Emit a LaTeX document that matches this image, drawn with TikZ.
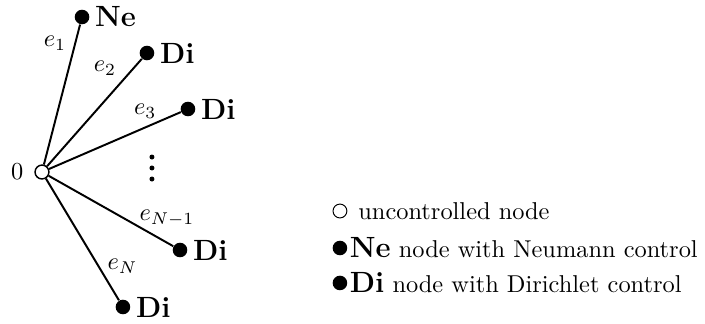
\documentclass[tikz,border=0pt]{standalone}
\usetikzlibrary{positioning}

\begin{document}
\begin{tikzpicture}[
    ctrl/.style={circle, fill=black, inner sep=0pt, minimum size=0.21cm},
    free/.style={circle, draw=black, fill=white, inner sep=0pt, minimum size=0.2cm},
    tag/.style={font=\large\bfseries, label distance=-1.3pt}]
    \useasboundingbox (0,0) rectangle (10.16,4.669);
    % star graph
    \node[free, semithick, label={[label distance=1pt]left:$0$}] (O) at (0.605,2.190) {};
    \node[ctrl, label={[tag]right:Ne}] (Ne) at (1.182,4.424) {};
    \node[ctrl, label={[tag]right:Di}] (Di1) at (2.118,3.905) {};
    \node[ctrl, label={[tag]right:Di}] (Di2) at (2.709,3.098) {};
    \node[ctrl, label={[tag]right:Di}] (Di3) at (2.594,1.066) {};
    \node[ctrl, label={[tag]right:Di}] (Di4) at (1.772,0.245) {};
    \draw[thick] (O) -- node[pos=0.865, left] {$e_1$} (Ne);
    \draw[thick] (O) -- node[inner sep=2pt, pos=0.79, above left] {$e_2$} (Di1);
    \draw[thick] (O) -- node[pos=0.73, above] {$e_3$} (Di2);
    \draw[thick] (O) -- node[pos=0.95, above=3pt] {$e_{N-1}$} (Di3);
    \draw[thick] (O) -- node[pos=0.72, right] {$e_N$} (Di4);
    \foreach \y in {2.406, 2.248, 2.089} {
    \fill (2.190,\y) circle (0.036);
    }
    % legend
    \node[free] (legfree) at (4.899,1.628) {};
    \node[right=1pt of legfree] (txtfree) {uncontrolled node};
    \node[ctrl] (legNe) at (4.899,1.095) {};
    \node[right=-2.6pt of legNe] (txtNe) {\textbf{\large Ne} node with Neumann control};
    \node[ctrl] (legDi) at (4.899,0.591) {};
    \node[right=-2.6pt of legDi] (txtDi) {\textbf{\large Di} node with Dirichlet control};
\end{tikzpicture}
\end{document}
